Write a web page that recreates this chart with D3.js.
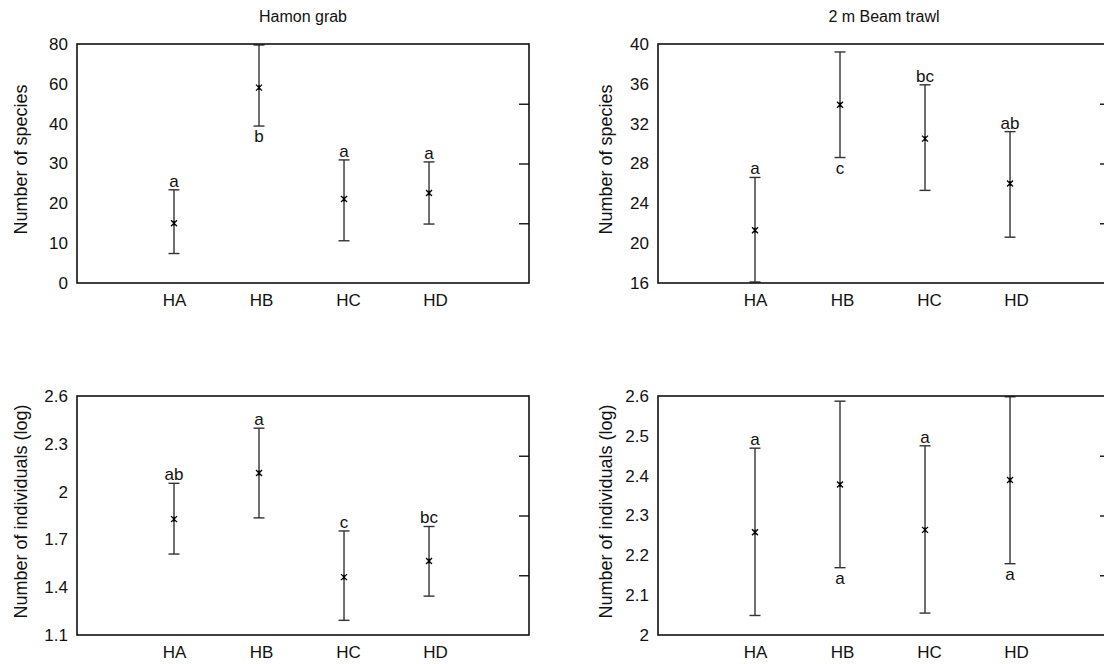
<!DOCTYPE html>
<html>
<head>
<meta charset="utf-8">
<script src="https://cdn.jsdelivr.net/npm/d3@7"></script>
<style>
  body { margin: 0; background: #fff; }
  svg { font-family: "Liberation Sans", Arial, sans-serif; }
</style>
</head>
<body>
<svg width="1104" height="664"></svg>
<script>
// sites along the x axis
const sites = ['HA', 'HB', 'HC', 'HD'];

// Hamon grab - number of species
const grabSpeciesMean = [15.0, 58.1, 21.1, 22.6];
const grabSpeciesLow = [7.4, 39.4, 10.6, 14.8];
const grabSpeciesHigh = [23.4, 79.5, 30.9, 30.4];
const grabSpeciesLetters = ['a', 'b', 'a', 'a'];
const grabSpeciesBelow = [false, true, false, false];
const grabSpeciesTicks = [0, 10, 20, 30, 40, 60, 80];

// 2 m Beam trawl - number of species
const beamSpeciesMean = [21.3, 33.9, 30.5, 26.0];
const beamSpeciesLow = [16.1, 28.6, 25.3, 20.6];
const beamSpeciesHigh = [26.6, 39.2, 35.9, 31.2];
const beamSpeciesLetters = ['a', 'c', 'bc', 'ab'];
const beamSpeciesBelow = [false, true, false, false];
const beamSpeciesTicks = [16, 20, 24, 28, 32, 36, 40];

// Hamon grab - number of individuals (log)
const grabIndivMean = [1.827, 2.117, 1.463, 1.564];
const grabIndivLow = [1.608, 1.835, 1.192, 1.344];
const grabIndivHigh = [2.052, 2.398, 1.753, 1.781];
const grabIndivLetters = ['ab', 'a', 'c', 'bc'];
const grabIndivBelow = [false, false, false, false];
const grabIndivTicks = [1.1, 1.4, 1.7, 2, 2.3, 2.6];

// 2 m Beam trawl - number of individuals (log)
const beamIndivMean = [2.258, 2.378, 2.264, 2.389];
const beamIndivLow = [2.049, 2.169, 2.055, 2.179];
const beamIndivHigh = [2.469, 2.587, 2.475, 2.598];
const beamIndivLetters = ['a', 'a', 'a', 'a'];
const beamIndivBelow = [false, true, false, true];
const beamIndivTicks = [2, 2.1, 2.2, 2.3, 2.4, 2.5, 2.6];

const svg = d3.select("svg");
const plotW = 452, plotH = 239;

function drawPanel(opts) {
  const g = svg.append("g").attr("transform", `translate(${opts.left},${opts.top})`);

  // bars and category labels sit on slightly different spacings in the original
  const x = d3.scaleLinear().domain([-0.141, 5.176]).range([0, plotW]);
  const xLabel = d3.scaleLinear().domain([-0.115, 5.08]).range([0, plotW]);
  const xPos = d => x(sites.indexOf(d) + 1);

  const y = d3.scaleLinear().domain(opts.domain).range(opts.range.map(f => plotH * f));

  // title
  if (opts.title) {
    g.append("text")
      .attr("x", plotW / 2)
      .attr("y", -22)
      .attr("text-anchor", "middle")
      .style("font-size", "16px")
      .attr("fill", "#111")
      .text(opts.title);
  }

  // y tick labels, no tick marks
  g.append("g")
    .call(d3.axisLeft(y).tickValues(opts.ticks).tickSize(0).tickPadding(9).tickFormat(d3.format("~g")))
    .call(a => a.select(".domain").remove())
    .selectAll("text")
      .style("font-family", "Liberation Sans, Arial, sans-serif")
      .style("font-size", "17px")
      .attr("fill", "#111");

  // x tick labels
  g.append("g")
    .attr("transform", `translate(0,${plotH})`)
    .call(d3.axisBottom(xLabel).tickValues([1, 2, 3, 4]).tickSize(0).tickPadding(11).tickFormat(d => sites[d - 1]))
    .call(a => a.select(".domain").remove())
    .selectAll("text")
      .style("font-family", "Liberation Sans, Arial, sans-serif")
      .style("font-size", "17px")
      .attr("fill", "#111");

  // unlabeled right axis, ticks pointing inward
  const yRight = d3.scaleLinear().domain([0, 4]).range([plotH, 0]);
  g.append("g")
    .attr("transform", `translate(${plotW},0)`)
    .call(d3.axisLeft(yRight).tickValues([1, 2, 3]).tickSize(10).tickFormat(""))
    .call(a => a.select(".domain").remove())
    .selectAll("line").attr("stroke", "#222").attr("stroke-width", 1.5);

  // y axis label
  g.append("text")
    .attr("transform", `translate(${opts.labelX},${plotH / 2 - 4}) rotate(-90)`)
    .attr("text-anchor", "middle")
    .style("font-size", "18px")
    .attr("fill", "#111")
    .text(opts.ylabel);

  const rows = sites.map((s, i) => ({
    site: s, mean: opts.mean[i], low: opts.low[i], high: opts.high[i],
    letter: opts.letters[i], below: opts.below[i]
  }));

  // error bars
  const bars = g.append("g").attr("stroke", "#333").attr("stroke-width", 1.4);
  bars.selectAll(".whisker").data(rows).join("line")
    .attr("x1", d => xPos(d.site)).attr("x2", d => xPos(d.site))
    .attr("y1", d => y(d.low)).attr("y2", d => y(d.high));
  bars.selectAll(".capTop").data(rows).join("line")
    .attr("x1", d => xPos(d.site) - 5.5).attr("x2", d => xPos(d.site) + 5.5)
    .attr("y1", d => y(d.high)).attr("y2", d => y(d.high));
  bars.selectAll(".capLow").data(rows).join("line")
    .attr("x1", d => xPos(d.site) - 5.5).attr("x2", d => xPos(d.site) + 5.5)
    .attr("y1", d => y(d.low)).attr("y2", d => y(d.low));

  // mean markers (small asterisk)
  g.append("g").selectAll("path").data(rows).join("path")
    .attr("transform", d => `translate(${xPos(d.site)},${y(d.mean)})`)
    .attr("d", "M-3,-3L3,3M-3,3L3,-3M0,-2.5L0,2.5")
    .attr("stroke", "#000").attr("stroke-width", 1.3).attr("fill", "none");

  // significance letters
  g.append("g").selectAll("text").data(rows).join("text")
    .attr("x", d => xPos(d.site))
    .attr("y", d => d.below ? y(d.low) + 16 : y(d.high) - 3)
    .attr("text-anchor", "middle")
    .style("font-size", "17px")
    .attr("fill", "#111")
    .text(d => d.letter);

  // frame
  g.append("rect")
    .attr("width", plotW).attr("height", plotH)
    .attr("fill", "none").attr("stroke", "#111").attr("stroke-width", 1.6);
}

drawPanel({
  left: 77, top: 44, title: "Hamon grab", ylabel: "Number of species", labelX: -50,
  domain: [0, 40, 80], range: [1, 1 / 3, 0], ticks: grabSpeciesTicks,
  mean: grabSpeciesMean, low: grabSpeciesLow, high: grabSpeciesHigh,
  letters: grabSpeciesLetters, below: grabSpeciesBelow
});

drawPanel({
  left: 658, top: 44, title: "2 m Beam trawl", ylabel: "Number of species", labelX: -46,
  domain: [16, 40], range: [1, 0], ticks: beamSpeciesTicks,
  mean: beamSpeciesMean, low: beamSpeciesLow, high: beamSpeciesHigh,
  letters: beamSpeciesLetters, below: beamSpeciesBelow
});

drawPanel({
  left: 77, top: 396, ylabel: "Number of individuals (log)", labelX: -50,
  domain: [1.1, 2.6], range: [1, 0], ticks: grabIndivTicks,
  mean: grabIndivMean, low: grabIndivLow, high: grabIndivHigh,
  letters: grabIndivLetters, below: grabIndivBelow
});

drawPanel({
  left: 658, top: 396, ylabel: "Number of individuals (log)", labelX: -46,
  domain: [2, 2.6], range: [1, 0], ticks: beamIndivTicks,
  mean: beamIndivMean, low: beamIndivLow, high: beamIndivHigh,
  letters: beamIndivLetters, below: beamIndivBelow
});
</script>
</body>
</html>
